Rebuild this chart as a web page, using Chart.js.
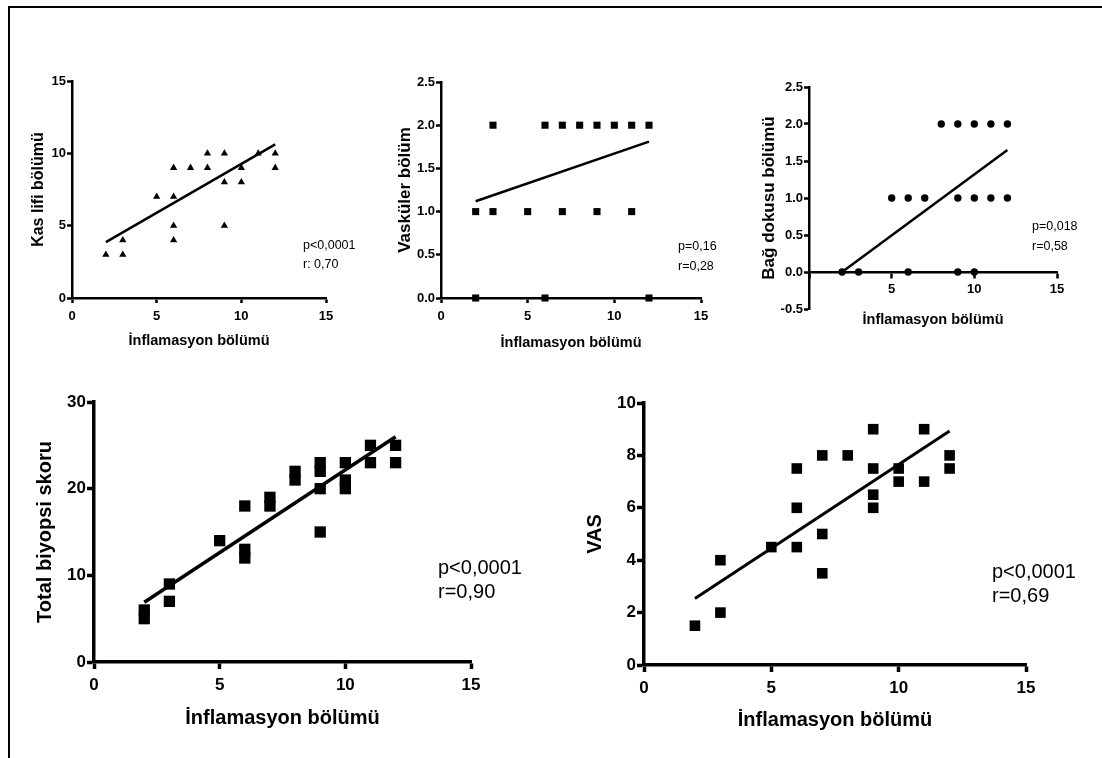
<!DOCTYPE html>
<html>
<head>
<meta charset="utf-8">
<script src="https://cdn.jsdelivr.net/npm/chart.js@4/dist/chart.umd.min.js"></script>
<style>
  body { margin: 0; background: #fff; width: 1102px; height: 758px; overflow: hidden; position: relative; }
  #cerceve { position: absolute; left: 8px; top: 6px; width: 1094px; height: 752px; border-top: 2px solid #000; border-left: 2px solid #000; }
  canvas { position: absolute; }
</style>
</head>
<body>
<div id="cerceve"></div>
<script>
// eksen tikleri
const inflamasyonTikleri = [0, 5, 10, 15];
const kasTikleri = [0, 5, 10, 15];
const vaskulerTikleri = [0, 0.5, 1, 1.5, 2, 2.5];
const bagTikleri = [-0.5, 0, 0.5, 1, 1.5, 2, 2.5];
const totalTikleri = [0, 10, 20, 30];
const vasTikleri = [0, 2, 4, 6, 8, 10];

// kas lifi bölümü
const kasX = [2, 3, 3, 5, 6, 6, 6, 6, 7, 8, 8, 9, 9, 9, 10, 10, 11, 12, 12];
const kasY = [3, 3, 4, 7, 9, 7, 5, 4, 9, 10, 9, 10, 8, 5, 9, 8, 10, 10, 9];

// vasküler bölüm
const vaskulerX = [3, 6, 7, 8, 9, 10, 11, 12, 2, 3, 5, 7, 9, 11, 2, 6, 12];
const vaskulerY = [2, 2, 2, 2, 2, 2, 2, 2, 1, 1, 1, 1, 1, 1, 0, 0, 0];

// bağ dokusu bölümü
const bagX = [8, 9, 10, 11, 12, 5, 6, 7, 9, 10, 11, 12, 2, 3, 6, 9, 10];
const bagY = [2, 2, 2, 2, 2, 1, 1, 1, 1, 1, 1, 1, 0, 0, 0, 0, 0];

// total biyopsi skoru
const totalX = [2, 2, 3, 3, 5, 6, 6, 6, 7, 7, 8, 8, 9, 9, 9, 9, 10, 10, 10, 11, 11, 12, 12];
const totalY = [6, 5, 9, 7, 14, 18, 13, 12, 19, 18, 22, 21, 23, 22, 20, 15, 23, 21, 20, 25, 23, 25, 23];

// VAS
const vasX = [2, 3, 3, 5, 6, 6, 6, 7, 7, 7, 8, 9, 9, 9, 9, 10, 10, 11, 11, 12, 12];
const vasY = [1.5, 4, 2, 4.5, 7.5, 6, 4.5, 8, 5, 3.5, 8, 9, 7.5, 6.5, 6, 7.5, 7, 9, 7, 8, 7.5];

// regresyon doğruları (x = 2 ve x = 12 uçları)
const fitX = [2, 12];
const kasFit = [3.86, 10.62];
const vaskulerFit = [1.12, 1.81];
const bagFit = [0.0, 1.65];
const totalFit = [6.9, 26.0];
const vasFit = [2.54, 8.93];

const YAZI = "'Liberation Sans', Arial, sans-serif";

const istatistikYazisi = {
  id: 'istatistik',
  afterDraw(chart, args, o) {
    const ctx = chart.ctx;
    ctx.save();
    ctx.fillStyle = '#000';
    ctx.font = o.font;
    ctx.textBaseline = 'middle';
    o.satirlar.forEach((s, i) => ctx.fillText(s, o.x, o.y + i * o.aralik));
    ctx.restore();
  }
};

function noktalar(xs, ys) {
  return xs.map((x, i) => ({ x: x, y: ys[i] }));
}

function panelCiz(p) {
  const yLH = p.yBaslikFont.size * 1.2;
  const xLH = p.xBaslikFont.size * 1.2;
  const yMin = p.yTik[0], yMax = p.yTik[p.yTik.length - 1];
  const kesisim = p.xKesisim !== undefined;
  const eksenY = kesisim
    ? p.alan.ust + (p.alan.alt - p.alan.ust) * (yMax - p.xKesisim) / (yMax - yMin)
    : p.alan.alt;
  const sol = Math.round(p.yBaslikX - yLH / 2);
  const ust = p.alan.ust - p.padUst;
  const xYuk = Math.round(p.xBaslikY + xLH / 2 - eksenY);
  const yGen = p.alan.sol - sol;
  // ortada duran x ekseni yerleşimde yer kaplamaz, alt boşluk elle verilir
  const padAlt = kesisim ? 30 : 0;
  const altKisim = kesisim ? padAlt : xYuk;

  const cv = document.createElement('canvas');
  cv.width = p.alan.sag + p.padSag - sol;
  cv.height = p.alan.alt + altKisim - ust;
  cv.style.left = sol + 'px';
  cv.style.top = ust + 'px';
  document.body.appendChild(cv);

  new Chart(cv, {
    type: 'scatter',
    data: {
      datasets: [
        {
          data: noktalar(p.x, p.y),
          pointStyle: p.isaret,
          pointRadius: p.r,
          pointBackgroundColor: '#000',
          pointBorderWidth: 0,
          clip: false
        },
        {
          data: noktalar(fitX, p.fit),
          showLine: true,
          borderColor: '#000',
          borderWidth: p.cizgi,
          pointRadius: 0,
          clip: false
        }
      ]
    },
    options: {
      responsive: false,
      animation: false,
      events: [],
      layout: { autoPadding: false, padding: { top: p.padUst, right: p.padSag, left: 0, bottom: padAlt } },
      plugins: {
        legend: { display: false },
        tooltip: { enabled: false },
        istatistik: { satirlar: p.yazi, x: p.yaziX - sol, y: p.yaziY - ust, aralik: p.yaziAralik, font: p.yaziFont }
      },
      scales: {
        x: {
          type: 'linear',
          position: kesisim ? { y: p.xKesisim } : 'bottom',
          min: inflamasyonTikleri[0],
          max: inflamasyonTikleri[inflamasyonTikleri.length - 1],
          afterBuildTicks: s => { s.ticks = inflamasyonTikleri.map(v => ({ value: v })); },
          afterFit: s => { s.height = xYuk; },
          ticks: {
            color: '#000', font: p.tikFont, padding: p.xTikBosluk, maxRotation: 0, autoSkip: false,
            callback: v => (kesisim && v === 0) ? '' : String(v)
          },
          grid: { drawOnChartArea: false, tickLength: p.tikUzunluk, tickColor: '#000', tickWidth: p.eksen },
          border: { color: '#000', width: p.eksen },
          title: { display: true, text: 'İnflamasyon bölümü', color: '#000', font: p.xBaslikFont, padding: 0 }
        },
        y: {
          type: 'linear',
          min: yMin,
          max: yMax,
          afterBuildTicks: s => { s.ticks = p.yTik.map(v => ({ value: v })); },
          afterFit: s => { s.width = yGen; },
          ticks: {
            color: '#000', font: p.tikFont, padding: p.yTikBosluk, autoSkip: false,
            callback: v => p.ondalik ? v.toFixed(1) : String(v)
          },
          grid: { drawOnChartArea: false, tickLength: p.tikUzunluk, tickColor: '#000', tickWidth: p.eksen },
          border: { color: '#000', width: p.eksen },
          title: { display: true, text: p.yBaslik, color: '#000', font: p.yBaslikFont, padding: 0 }
        }
      }
    },
    plugins: [istatistikYazisi]
  });
}

const kucukTik = { family: YAZI, size: 13, weight: 'bold' };
const kucukXBaslik = { family: YAZI, size: 14.5, weight: 'bold' };
const kucukYazi = '12.5px ' + YAZI;
const buyukTik = { family: YAZI, size: 17, weight: 'bold' };
const buyukBaslik = { family: YAZI, size: 20, weight: 'bold' };
const buyukYazi = '20px ' + YAZI;

panelCiz({
  alan: { sol: 72, sag: 326, ust: 81, alt: 298 }, padUst: 12, padSag: 45,
  x: kasX, y: kasY, fit: kasFit, yTik: kasTikleri, ondalik: false,
  isaret: 'triangle', r: 4.2, cizgi: 2.5, eksen: 2.5, tikUzunluk: 5, xTikBosluk: 6, yTikBosluk: 1,
  tikFont: kucukTik, xBaslikFont: kucukXBaslik, xBaslikY: 341,
  yBaslik: 'Kas lifi bölümü', yBaslikFont: { family: YAZI, size: 16, weight: 'bold' }, yBaslikX: 39,
  yazi: ['p<0,0001', 'r: 0,70'], yaziX: 303, yaziY: 246, yaziAralik: 19, yaziFont: kucukYazi
});

panelCiz({
  alan: { sol: 441, sag: 701, ust: 82, alt: 298 }, padUst: 12, padSag: 25,
  x: vaskulerX, y: vaskulerY, fit: vaskulerFit, yTik: vaskulerTikleri, ondalik: true,
  isaret: 'rect', r: 5, cizgi: 2.5, eksen: 2.5, tikUzunluk: 5, xTikBosluk: 6, yTikBosluk: 1,
  tikFont: kucukTik, xBaslikFont: kucukXBaslik, xBaslikY: 343,
  yBaslik: 'Vasküler bölüm', yBaslikFont: { family: YAZI, size: 17, weight: 'bold' }, yBaslikX: 405,
  yazi: ['p=0,16', 'r=0,28'], yaziX: 678, yaziY: 247, yaziAralik: 20, yaziFont: kucukYazi
});

panelCiz({
  alan: { sol: 809, sag: 1057, ust: 87, alt: 309 }, padUst: 12, padSag: 35, xKesisim: 0,
  x: bagX, y: bagY, fit: bagFit, yTik: bagTikleri, ondalik: true,
  isaret: 'circle', r: 3.7, cizgi: 2.5, eksen: 2.5, tikUzunluk: 5, xTikBosluk: 5, yTikBosluk: 1,
  tikFont: kucukTik, xBaslikFont: kucukXBaslik, xBaslikY: 320,
  yBaslik: 'Bağ dokusu bölümü', yBaslikFont: { family: YAZI, size: 17, weight: 'bold' }, yBaslikX: 769,
  yazi: ['p=0,018', 'r=0,58'], yaziX: 1032, yaziY: 227, yaziAralik: 20, yaziFont: kucukYazi
});

panelCiz({
  alan: { sol: 94, sag: 471, ust: 402, alt: 662 }, padUst: 14, padSag: 60,
  x: totalX, y: totalY, fit: totalFit, yTik: totalTikleri, ondalik: false,
  isaret: 'rect', r: 8, cizgi: 3.5, eksen: 3.5, tikUzunluk: 7, xTikBosluk: 6, yTikBosluk: 1,
  tikFont: buyukTik, xBaslikFont: buyukBaslik, xBaslikY: 718,
  yBaslik: 'Total biyopsi skoru', yBaslikFont: buyukBaslik, yBaslikX: 45,
  yazi: ['p<0,0001', 'r=0,90'], yaziX: 438, yaziY: 568, yaziAralik: 24, yaziFont: buyukYazi
});

panelCiz({
  alan: { sol: 644, sag: 1026, ust: 403, alt: 665 }, padUst: 14, padSag: 60,
  x: vasX, y: vasY, fit: vasFit, yTik: vasTikleri, ondalik: false,
  isaret: 'rect', r: 7.5, cizgi: 3, eksen: 3.5, tikUzunluk: 7, xTikBosluk: 6, yTikBosluk: 1,
  tikFont: buyukTik, xBaslikFont: buyukBaslik, xBaslikY: 720,
  yBaslik: 'VAS', yBaslikFont: buyukBaslik, yBaslikX: 595,
  yazi: ['p<0,0001', 'r=0,69'], yaziX: 992, yaziY: 572, yaziAralik: 24, yaziFont: buyukYazi
});
</script>
</body>
</html>
